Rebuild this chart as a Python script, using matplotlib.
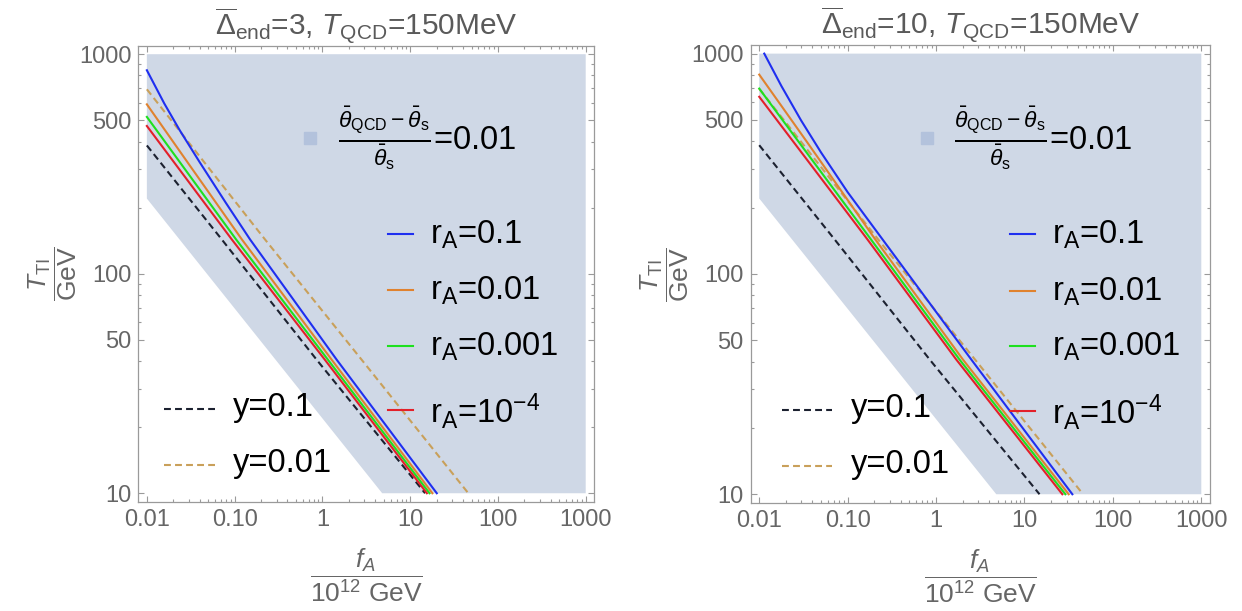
import matplotlib
matplotlib.use("Agg")
import matplotlib.pyplot as plt
from matplotlib.ticker import FixedLocator, FixedFormatter, NullFormatter

plt.rcParams['font.family'] = ['Liberation Sans', 'DejaVu Sans']
plt.rcParams['mathtext.fontset'] = 'custom'
plt.rcParams['mathtext.rm'] = 'Liberation Sans'
plt.rcParams['mathtext.it'] = 'Liberation Sans:italic'
plt.rcParams['mathtext.bf'] = 'Liberation Sans:bold'

# === Data (fA in 1e12 GeV, T_TI in GeV) ===
# allowed region (shaded)
region_f = [0.01, 1000, 1000, 4.8, 0.01]
region_T = [1000, 1000, 10, 10, 220]

# y lines (same in both panels)
f_y01 = [0.01, 0.0714, 0.863, 14.8]
T_y01 = [384, 143.2, 40.5, 10]
f_y001 = [0.01, 0.222, 2.81, 46.0]
T_y001 = [692, 143.2, 40.5, 10]

# Delta_end = 3
f_r1_d3 = [0.01, 0.0158, 0.0237, 0.040, 0.079, 0.150, 1.46, 20.1]
T_r1_d3 = [845, 596, 450, 322, 211, 143.2, 40.5, 10]
f_r2_d3 = [0.01, 0.030, 0.121, 1.28, 17.9]
T_r2_d3 = [591, 316, 143.2, 40.5, 10]
f_r3_d3 = [0.01, 0.104, 1.16, 16.6]
T_r3_d3 = [518, 143.2, 40.5, 10]
f_r4_d3 = [0.01, 0.0929, 1.07, 15.5]
T_r4_d3 = [471, 143.2, 40.5, 10]

# Delta_end = 10
f_r1_d10 = [0.0114, 0.0178, 0.0297, 0.050, 0.100, 0.249, 2.50, 34.8]
T_r1_d10 = [1000, 713, 498, 356, 235, 143.2, 40.9, 10]
f_r2_d10 = [0.01, 0.035, 0.206, 2.01, 31.6]
T_r2_d10 = [803, 395, 143.2, 40.9, 10]
f_r3_d10 = [0.01, 0.184, 1.84, 29.0]
T_r3_d10 = [694, 143.2, 40.9, 10]
f_r4_d10 = [0.01, 0.168, 1.69, 26.8]
T_r4_d10 = [637, 143.2, 40.9, 10]

r_labels = [r'r$_{\rm A}$=0.1', r'r$_{\rm A}$=0.01', r'r$_{\rm A}$=0.001', r'r$_{\rm A}$=10$^{-4}$']
y_labels = ['y=0.1', 'y=0.01']
r_colors = ['#1f2ff0', '#e0822e', '#1ee01e', '#e3202a']
y_colors = ['#1c2130', '#c9a05a']

x_ticks = [0.01, 0.1, 1, 10, 100, 1000]
x_ticklabels = ['0.01', '0.10', '1', '10', '100', '1000']
y_ticks = [10, 50, 100, 500, 1000]
y_ticklabels = ['10', '50', '100', '500', '1000']

panels = [
    (3, [(f_r1_d3, T_r1_d3), (f_r2_d3, T_r2_d3), (f_r3_d3, T_r3_d3), (f_r4_d3, T_r4_d3)]),
    (10, [(f_r1_d10, T_r1_d10), (f_r2_d10, T_r2_d10), (f_r3_d10, T_r3_d10), (f_r4_d10, T_r4_d10)]),
]

# === Plotting ===
fig = plt.figure(figsize=(12.42, 6.11), dpi=100)
rects = [[0.1114, 0.178, 0.3671, 0.7473], [0.6044, 0.1763, 0.3698, 0.750]]
# legend anchors (axes fraction): r-legend line x0, y-legend line x0, square x
leg_pos = [(0.548, 0.057, 0.377), (0.565, 0.068, 0.383)]

gray = '#666666'
frame = '#9a9a9a'
region_col = '#cfd8e6'

for (delta, rlines), rect, lp in zip(panels, rects, leg_pos):
    ax = fig.add_axes(rect)
    ax.set_xscale('log')
    ax.set_yscale('log')
    ax.fill(region_f, region_T, color=region_col, lw=0, zorder=0)

    ax.plot(f_y01, T_y01, color=y_colors[0], lw=1.5, dashes=(3.3, 2.0))
    ax.plot(f_y001, T_y001, color=y_colors[1], lw=1.5, dashes=(3.3, 2.0))
    for (f, T), c in zip(rlines, r_colors):
        ax.plot(f, T, color=c, lw=1.5)

    ax.set_xlim(10 ** -2.097, 10 ** 3.098)
    ax.set_ylim(10 ** 0.959, 10 ** 3.039)

    ax.xaxis.set_major_locator(FixedLocator(x_ticks))
    ax.xaxis.set_major_formatter(FixedFormatter(x_ticklabels))
    ax.yaxis.set_major_locator(FixedLocator(y_ticks))
    ax.yaxis.set_major_formatter(FixedFormatter(y_ticklabels))
    xminor = [m * 10.0 ** e for e in range(-2, 3) for m in range(2, 10)]
    yminor = [m * 10.0 ** e for e in range(1, 3) for m in (2, 3, 4, 6, 7, 8, 9)]
    ax.xaxis.set_minor_locator(FixedLocator(xminor))
    ax.yaxis.set_minor_locator(FixedLocator(yminor))
    ax.xaxis.set_minor_formatter(NullFormatter())
    ax.yaxis.set_minor_formatter(NullFormatter())
    ax.tick_params(which='both', direction='in', top=True, right=True,
                   color=frame, labelcolor=gray, labelsize=17, width=0.8)
    ax.tick_params(which='major', length=4.5, pad=5)
    ax.tick_params(which='minor', length=2.5)
    for s in ax.spines.values():
        s.set_color(frame)
        s.set_linewidth(0.9)

    ax.set_title(r'$\overline{\Delta}_{\rm end}$=%d, $T_{\rm QCD}$=150MeV' % delta,
                 fontsize=21.5, color='#5a5a5a', pad=6)
    ax.set_xlabel(r'$\dfrac{f_A}{10^{12}\ \rm GeV}$', fontsize=19, color=gray, labelpad=11)
    ax.set_ylabel(r'$\dfrac{T_{\rm TI}}{\rm GeV}$', fontsize=19, color=gray, labelpad=0)

    # r_A legend
    rows_r = [0.587, 0.464, 0.343, 0.202]
    for yy, c, lab in zip(rows_r, r_colors, r_labels):
        ax.plot([lp[0], lp[0] + 0.055], [yy, yy], color=c, lw=1.5,
                transform=ax.transAxes, clip_on=False)
        ax.text(lp[0] + 0.092, yy - 0.002, lab, transform=ax.transAxes,
                fontsize=23.5, va='center', ha='left', color='black')
    # y legend
    rows_y = [0.204, 0.082]
    for yy, c, lab in zip(rows_y, y_colors, y_labels):
        ax.plot([lp[1], lp[1] + 0.11], [yy, yy], color=c, lw=1.5, dashes=(3.3, 2.0),
                transform=ax.transAxes, clip_on=False)
        ax.text(lp[1] + 0.150, yy + 0.003, lab, transform=ax.transAxes,
                fontsize=23.5, va='center', ha='left', color='black')
    # region legend
    ax.plot([lp[2]], [0.797], marker='s', ms=9, color='#b3c2dc', lw=0,
            transform=ax.transAxes)
    ax.text(lp[2] + 0.060, 0.797,
            r'$\frac{\bar{\theta}_{\rm QCD}-\bar{\theta}_{\rm s}}{\bar{\theta}_{\rm s}}$=0.01',
            transform=ax.transAxes, fontsize=23.5, va='center', ha='left', color='black')

fig.savefig('out.png', dpi=100)
